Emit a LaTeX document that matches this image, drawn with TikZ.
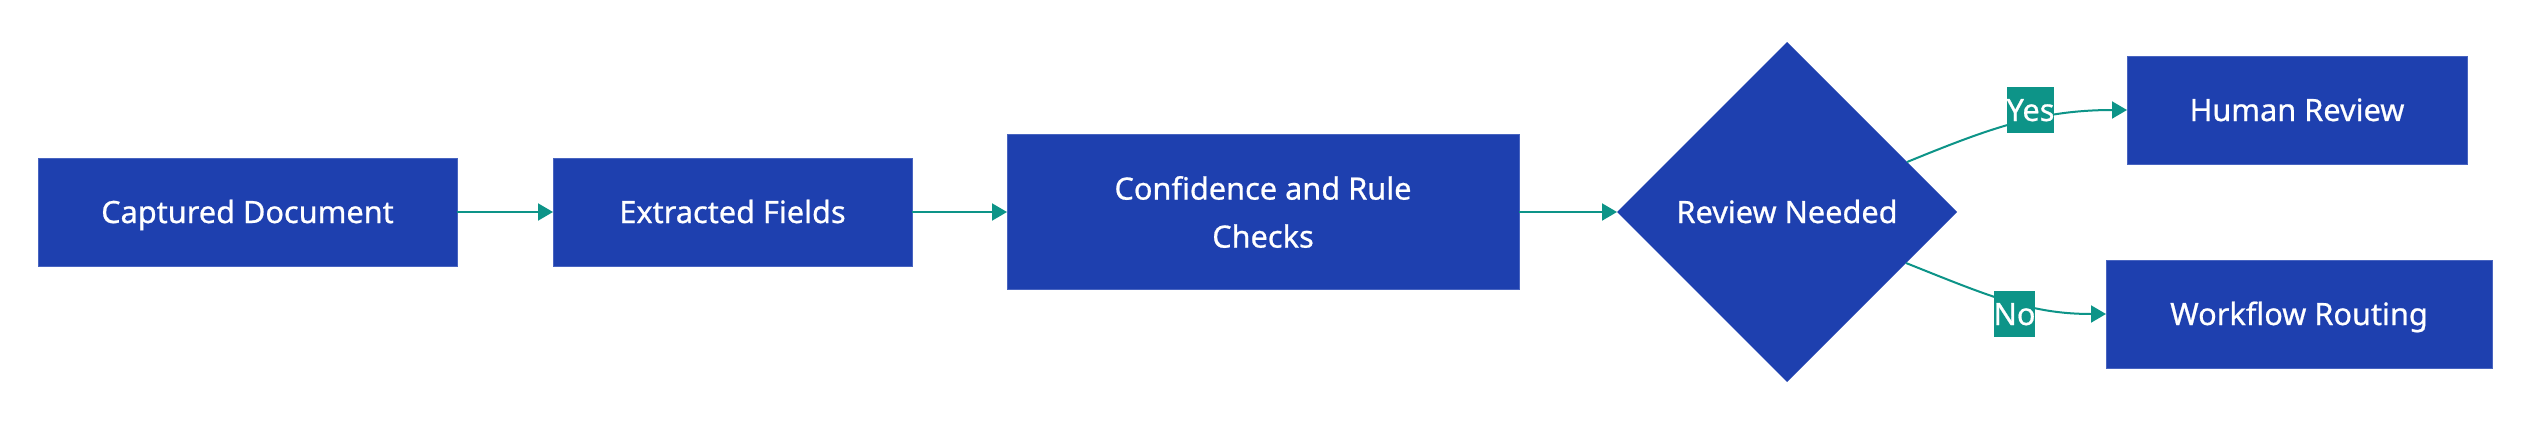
\documentclass[tikz,border=0pt]{standalone}
\usepackage{fontspec}
\setmainfont[FakeBold=0.7]{Noto Sans}
\usetikzlibrary{shapes.geometric,arrows.meta,calc}
\definecolor{boxblue}{RGB}{30,64,175}
\definecolor{boxline}{RGB}{72,100,192}
\definecolor{edgeteal}{RGB}{13,148,136}
\begin{document}
\begin{tikzpicture}[x=1pt,y=-1pt,
  basebox/.style={rectangle, fill=boxblue, draw=boxline, line width=0.8pt,
    inner sep=0pt, outer sep=0pt, text=white,
    font=\fontsize{30.7}{48}\selectfont},
  proc/.style={basebox, text height=22pt, text depth=0pt},
  decision/.style={diamond, fill=boxblue, inner sep=0pt, outer sep=0pt,
    minimum width=340pt, minimum height=340pt, text=white,
    font=\fontsize{30.7}{48}\selectfont, text height=22pt, text depth=0pt},
  flow/.style={draw=edgeteal, line width=2pt, -{Triangle[length=15pt,width=17pt]}},
  elabel/.style={fill=edgeteal, inner sep=0pt, outer sep=0pt, minimum height=46pt,
    text=white, font=\fontsize{30.7}{48}\selectfont, text height=22pt, text depth=0pt}]
\path[fill=white, use as bounding box] (0,0) rectangle (2528,424);

\node[proc, minimum width=419pt, minimum height=108pt] (cap) at (247.5,212) {Captured Document};
\node[proc, minimum width=359pt, minimum height=108pt] (ext) at (732.5,212) {Extracted Fields};
\node[basebox, minimum width=512pt, minimum height=155pt, align=center] (conf) at (1263,212) {Confidence and Rule\\Checks};
\node[decision] (dec) at (1787,212) {Review Needed};
\node[proc, minimum width=340pt, minimum height=108pt] (hr) at (2297,110) {Human Review};
\node[proc, minimum width=386pt, minimum height=108pt] (wr) at (2299,314) {Workflow Routing};

\draw[flow] (cap.east) -- (ext.west);
\draw[flow] (ext.east) -- (conf.west);
\draw[flow] (conf.east) -- (dec.west);

\coordinate (ys) at ($(dec.east)!0.294!(dec.north)$);
\coordinate (ns) at ($(dec.east)!0.3!(dec.south)$);
\draw[flow] (ys) .. controls +(83,-34) and +(-87,0) .. (hr.west);
\draw[flow] (ns) .. controls +(85,34) and +(-75,0) .. (wr.west);

\node[elabel] (yl) at (2030.5,110) {Yes};
\node[elabel] (nl) at (2014.5,314) {No};
\end{tikzpicture}
\end{document}
